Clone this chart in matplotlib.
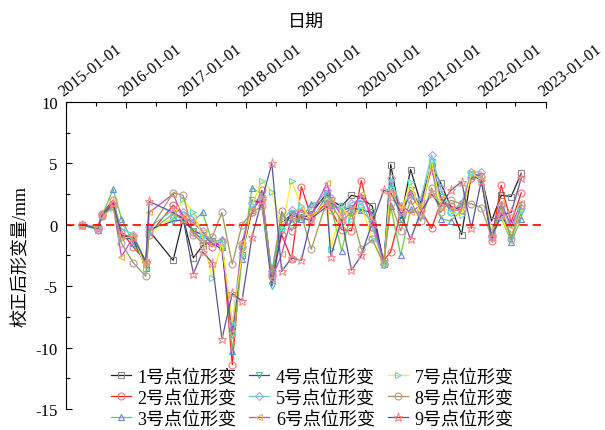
import matplotlib
matplotlib.use('Agg')
import matplotlib.pyplot as plt
import matplotlib.dates as mdates
from matplotlib.ticker import MultipleLocator
import pandas as pd

plt.rcParams['font.family'] = ['Liberation Serif', 'Noto Sans CJK SC']
plt.rcParams['axes.unicode_minus'] = False

# observation dates (shared by all points)
dates = ['2015-04-07', '2015-07-15', '2015-08-08', '2015-10-15', '2015-12-05',
         '2016-02-15', '2016-05-01', '2016-05-22', '2016-10-15', '2016-12-15',
         '2017-02-15', '2017-04-12', '2017-06-10', '2017-08-08', '2017-10-10', '2017-12-08',
         '2018-02-07', '2018-04-08', '2018-06-08', '2018-08-07', '2018-10-06', '2018-12-05',
         '2019-02-03', '2019-05-10', '2019-06-02', '2019-08-07', '2019-10-06', '2019-12-05',
         '2020-02-10', '2020-04-20', '2020-06-01', '2020-08-01', '2020-09-30', '2020-11-30',
         '2021-02-05', '2021-04-01', '2021-06-01', '2021-08-07', '2021-10-05', '2021-12-05',
         '2022-02-05', '2022-04-05', '2022-06-05', '2022-08-05']

# corrected deformation (mm) per point
s1 = [0, -0.3, 0.8, 1.6, -0.9, -1.0, -3.5, -0.5, -2.9, 0.5, -2.7,
      -1.7, -1.3, -1.8, -8.6, -2.5, 1.2, 2.2, -4.0, 0.2, 0.8, 0.5,
      0.9, 2.6, 2.0, 1.5, 2.4, 2.2, 1.5, -3.2, 4.9, 0.5, 4.5,
      1.8, 4.8, 3.4, 1.5, -0.8, 4.1, 4.0, 0.3, 2.4, 2.3, 4.2]
s2 = [0, -0.2, 0.9, 2.0, -0.6, -1.8, -3.0, -0.8, 1.6, 0.8, -0.6,
      -1.2, -1.8, -1.3, -11.4, -1.8, 1.0, 2.8, -4.2, -0.8, -2.8, 3.1,
      0.6, 1.8, 1.2, -0.4, -0.5, 3.6, -0.2, -2.9, -2.2, 1.0, 2.5,
      1.2, -0.3, 1.8, 1.5, 1.2, 3.8, 3.9, -1.3, 3.2, 0.2, 2.6]
s3 = [0, -0.4, 0.7, 2.9, 0.5, -1.5, -3.2, -0.6, 0.9, 0.4, 0.3,
      1.0, -1.4, -1.2, -10.3, -2.8, 3.0, 2.5, -4.5, 0.8, 0.2, 0.5,
      1.7, 2.0, 1.6, -2.1, 1.0, 1.2, 0.2, -3.0, 1.5, -2.5, 1.3,
      0.8, 4.8, 0.5, 0.3, 1.2, 4.0, 3.8, -1.0, 0.6, -1.4, 0.5]
s4 = [0, -0.3, 0.8, 1.5, -1.0, -1.2, -3.4, -0.4, 0.3, 0.4, -0.5,
      -0.8, -1.5, -2.0, -9.0, -2.0, 2.0, 1.8, -5.0, -0.5, 0.9, 0.6,
      0.3, 2.4, 1.8, 1.2, 1.4, 1.2, 1.0, -3.1, 3.5, 0.5, 2.8,
      1.5, 5.1, 2.3, 1.2, 1.5, 4.1, 3.6, -1.2, 1.0, -1.0, 1.0]
s5 = [0, -0.4, 0.9, 1.7, -0.3, -0.8, -3.0, -0.2, 1.2, 1.0, 0.6,
      -0.5, -1.4, -1.4, -8.2, -1.5, 1.8, 2.3, -3.8, 0.4, 1.2, 1.0,
      1.3, 2.8, 2.2, 1.0, 1.8, 2.0, -0.2, -3.2, 3.8, 1.5, 2.4,
      2.0, 5.7, 3.0, 1.0, 1.8, 4.3, 4.3, -0.8, 1.6, -0.3, 1.4]
s6 = [0, -0.3, 0.8, 1.6, -2.6, -1.0, -3.0, 1.0, 2.5, 0.6, 0.2,
      -0.6, -1.6, -1.6, -8.8, -1.5, 1.2, 2.2, -4.4, -2.4, 0.6, 1.2,
      0.8, 3.4, 2.0, 0.8, 1.3, 2.5, 0.6, -3.1, 2.5, 1.6, 1.0,
      1.6, 4.5, 2.1, 1.2, 1.2, 4.2, 3.9, -0.6, 1.8, -0.1, 1.8]
s7 = [0, -0.2, 0.6, 1.4, -1.2, -0.8, -3.6, -0.7, 0.6, 2.1, 1.0,
      -1.0, -4.3, -1.5, -8.0, -2.5, 1.6, 3.6, 2.7, -0.3, 3.6, 1.5,
      0.4, 2.2, -2.0, 1.5, 0.4, 1.5, -1.2, -3.3, 3.0, 0.9, 3.5,
      0.7, 5.2, 1.6, 1.0, 0.8, 4.2, 3.7, -0.5, 0.6, -1.1, 1.2]
s8 = [0, -0.3, 0.7, 1.5, -1.5, -3.1, -4.2, -0.5, 2.6, 2.4, -0.8,
      -1.5, -1.0, 1.0, -3.2, 0.0, 1.0, 1.5, -4.0, 1.1, -0.5, 0.8,
      -2.0, 2.0, 1.7, 0.3, 1.0, -2.0, -1.2, -3.2, 1.8, -0.5, 2.0,
      0.3, 3.0, 1.0, 2.0, 1.7, 1.7, 1.4, -1.0, 1.5, -1.2, 1.6]
s9 = [0, -0.3, 0.8, 1.8, -0.8, -1.0, -3.0, 1.9, 1.0, 0.5, -4.0,
      -2.2, -3.1, -9.3, -5.6, -6.2, -1.0, 2.0, 5.0, -3.8, -2.7, -2.9,
      0.5, 1.5, -2.6, 0.5, -3.7, -2.5, 0.2, 2.8, 2.6, 1.0, -1.2,
      1.0, 2.5, 1.5, 2.8, 3.5, -0.3, 3.6, -1.0, 0.8, 1.0, 3.8]

series = [s1, s2, s3, s4, s5, s6, s7, s8, s9]
labels = ['%d号点位形变' % i for i in range(1, 10)]
# line colour, marker, marker colour
line_colors = ['#222222', '#ff2020', '#66cc44', '#3344aa', '#66cccc',
               '#cc44cc', '#ffee22', '#999955', '#555599']
markers = ['s', 'o', '^', 'v', 'D', '<', '>', 'o', '*']
marker_colors = ['#888888', '#ff7070', '#6688ee', '#55bb88', '#bb99ee',
                 '#eeaa55', '#55dddd', '#bb9999', '#ff8888']

x = pd.to_datetime(dates)

fig = plt.figure(figsize=(6.05, 4.31), dpi=100)
ax = fig.add_axes([0.109, 0.049, 0.793, 0.712])

for i in range(9):
    ms = 6.5 if markers[i] == '*' else 5
    if markers[i] == 'D':
        ms = 4.2
    ax.plot(x, series[i], color=line_colors[i], lw=0.9, marker=markers[i], ms=ms,
            mfc='none', mec=marker_colors[i], mew=0.8, label=labels[i])

ax.axhline(0, color='red', ls=(0, (5, 3)), lw=1.2)

ax.set_xlim(pd.Timestamp('2015-01-01'), pd.Timestamp('2023-01-01'))
ax.set_ylim(-15, 10)

ax.xaxis.tick_top()
ax.xaxis.set_label_position('top')
ax.xaxis.set_major_locator(mdates.YearLocator())
ax.xaxis.set_minor_locator(mdates.MonthLocator(bymonth=7))
ax.xaxis.set_major_formatter(mdates.DateFormatter('%Y-%m-%d'))
ax.yaxis.set_major_locator(MultipleLocator(5))
ax.yaxis.set_minor_locator(MultipleLocator(2.5))

ax.tick_params(axis='both', which='both', direction='in', width=0.8)
ax.tick_params(axis='both', which='major', length=4)
ax.tick_params(axis='both', which='minor', length=3)
ax.tick_params(axis='x', labelsize=11.5, pad=2)
ax.tick_params(axis='y', labelsize=12, pad=6)
plt.setp(ax.get_xticklabels(), rotation=38, ha='left', va='bottom', rotation_mode='anchor')

ax.spines['right'].set_visible(False)
ax.spines['bottom'].set_visible(False)

ax.set_xlabel('日期', fontsize=13, labelpad=10)
ax.set_ylabel('校正后形变量/mm', fontsize=13, labelpad=4)

ax.legend(loc='lower center', bbox_to_anchor=(0.516, -0.024), bbox_transform=fig.transFigure,
          ncol=3, frameon=False, fontsize=13, handlelength=1.1, handletextpad=0.37,
          columnspacing=0.72, labelspacing=0.22, borderpad=0.2)

fig.savefig('out.png', dpi=100)
